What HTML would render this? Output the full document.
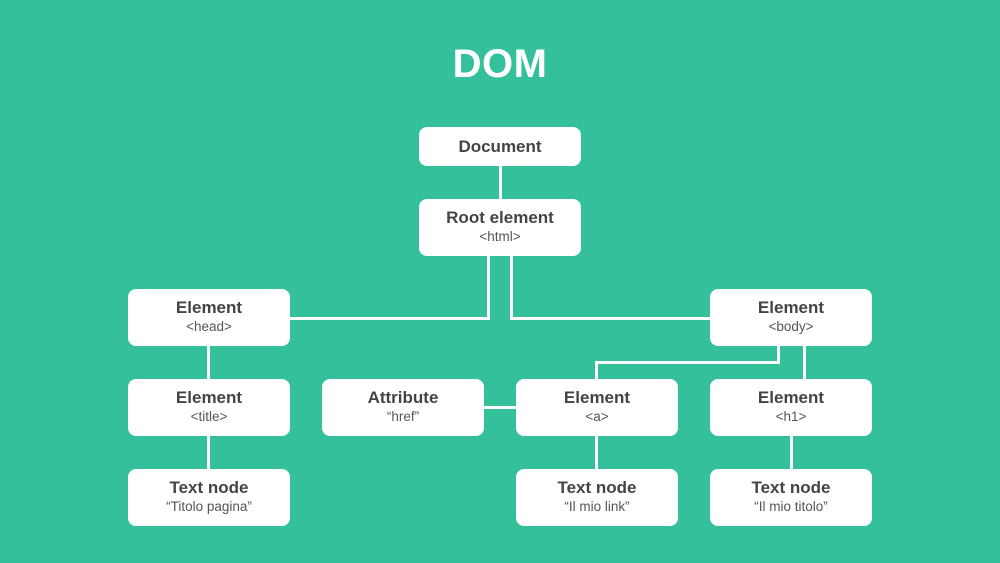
<!DOCTYPE html>
<html><head><meta charset="utf-8"><style>
body{margin:0}
#c{position:relative;width:1000px;height:563px;background:#33c09a;overflow:hidden;font-family:"Liberation Sans",sans-serif}
.b{position:absolute;width:162px;background:#fff;border-radius:8px;color:#444;text-align:center;box-sizing:border-box}
.t{font-weight:bold;font-size:17px;line-height:20px}
.s{font-size:13.5px;line-height:17px;color:#555}
.l{position:absolute;background:#fff}
h1{position:absolute;left:0;right:0;top:42px;margin:0;text-align:center;color:#fff;font-size:40px;font-weight:bold;letter-spacing:0.5px}
</style></head><body><div id="c">
<h1>DOM</h1>
<!-- lines -->
<div class="l" style="left:499px;top:166px;width:3px;height:33px"></div>
<div class="l" style="left:487px;top:256px;width:3px;height:64px"></div>
<div class="l" style="left:290px;top:317px;width:200px;height:3px"></div>
<div class="l" style="left:510px;top:256px;width:3px;height:64px"></div>
<div class="l" style="left:510px;top:317px;width:200px;height:3px"></div>
<div class="l" style="left:207px;top:346px;width:3px;height:33px"></div>
<div class="l" style="left:207px;top:436px;width:3px;height:33px"></div>
<div class="l" style="left:777px;top:346px;width:3px;height:18px"></div>
<div class="l" style="left:595px;top:361px;width:185px;height:3px"></div>
<div class="l" style="left:595px;top:361px;width:3px;height:18px"></div>
<div class="l" style="left:803px;top:346px;width:3px;height:33px"></div>
<div class="l" style="left:484px;top:406px;width:32px;height:3px"></div>
<div class="l" style="left:595px;top:436px;width:3px;height:33px"></div>
<div class="l" style="left:790px;top:436px;width:3px;height:33px"></div>
<!-- boxes -->
<div class="b" style="left:419px;top:127px;height:39px;padding-top:10px"><div class="t">Document</div></div>
<div class="b" style="left:419px;top:199px;height:57px;padding-top:9px"><div class="t">Root element</div><div class="s">&lt;html&gt;</div></div>
<div class="b" style="left:128px;top:289px;height:57px;padding-top:9px"><div class="t">Element</div><div class="s">&lt;head&gt;</div></div>
<div class="b" style="left:710px;top:289px;height:57px;padding-top:9px"><div class="t">Element</div><div class="s">&lt;body&gt;</div></div>
<div class="b" style="left:128px;top:379px;height:57px;padding-top:9px"><div class="t">Element</div><div class="s">&lt;title&gt;</div></div>
<div class="b" style="left:322px;top:379px;height:57px;padding-top:9px"><div class="t">Attribute</div><div class="s">“href”</div></div>
<div class="b" style="left:516px;top:379px;height:57px;padding-top:9px"><div class="t">Element</div><div class="s">&lt;a&gt;</div></div>
<div class="b" style="left:710px;top:379px;height:57px;padding-top:9px"><div class="t">Element</div><div class="s">&lt;h1&gt;</div></div>
<div class="b" style="left:128px;top:469px;height:57px;padding-top:9px"><div class="t">Text node</div><div class="s">“Titolo pagina”</div></div>
<div class="b" style="left:516px;top:469px;height:57px;padding-top:9px"><div class="t">Text node</div><div class="s">“Il mio link”</div></div>
<div class="b" style="left:710px;top:469px;height:57px;padding-top:9px"><div class="t">Text node</div><div class="s">“Il mio titolo”</div></div>
</div></body></html>
